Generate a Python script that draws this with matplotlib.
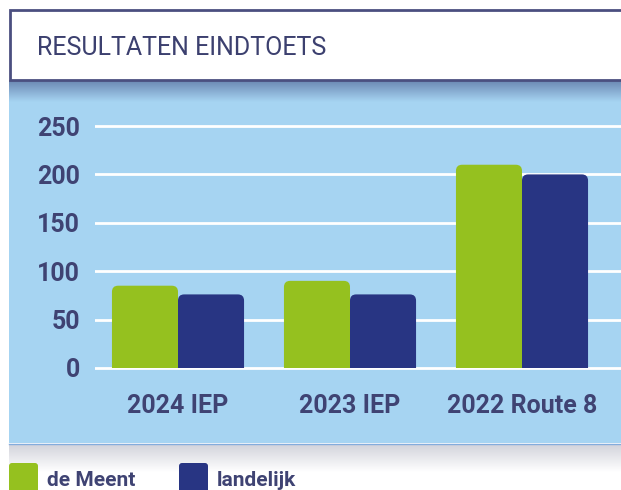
import numpy as np
import matplotlib
matplotlib.use("Agg")
import matplotlib.pyplot as plt
from matplotlib.patches import Rectangle, FancyBboxPatch
from matplotlib.colors import to_rgb

# data
categories = ["2024 IEP", "2023 IEP", "2022 Route 8"]
de_meent = [85, 90, 210]
landelijk = [76, 76, 200]
yticks = [0, 50, 100, 150, 200, 250]

GREEN = "#95c11f"
NAVY = "#283583"
TEXT = "#3f4373"
SKY = "#a6d4f2"

plt.rcParams['font.family'] = ['Roboto', 'DejaVu Sans']

W, H = 621, 490
fig = plt.figure(figsize=(W / 100, H / 100), dpi=100)

# background layer in pixel coordinates
bg = fig.add_axes([0, 0, 1, 1], zorder=0)
bg.set_xlim(0, W)
bg.set_ylim(H, 0)
bg.axis("off")


def vgrad(c_top, c_bot, x0, x1, y0, y1):
    t = np.linspace(0, 1, 64)[:, None]
    a, b = np.array(to_rgb(c_top)), np.array(to_rgb(c_bot))
    img = (a[None, :] * (1 - t) + b[None, :] * t)[:, None, :]
    bg.imshow(img, extent=(x0, x1, y1, y0), aspect="auto", interpolation="bilinear", zorder=1)


bg.add_patch(Rectangle((9, 80), W, 363, facecolor=SKY, edgecolor="none", zorder=0.5))
vgrad("#6a86b2", SKY, 9, W, 81, 102)
bg.plot([9, W], [443.5, 443.5], color="#84acdc", lw=1, zorder=2)
vgrad("#d2d3db", "#ffffff", 9, W, 444, 472)
bg.add_patch(Rectangle((9.5, 10), W + 10, 70, facecolor="white",
                       edgecolor="#4b4f80", lw=2, zorder=3))
bg.text(37, 55, "RESULTATEN EINDTOETS", fontsize=18, color="#3c406f",
        va="baseline", ha="left", zorder=4)

# legend
for x, col, lab in [(9, GREEN, "de Meent"), (179, NAVY, "landelijk")]:
    bg.add_patch(FancyBboxPatch((x, 463), 29, 40, boxstyle="round,pad=0,rounding_size=3",
                                facecolor=col, edgecolor="none", zorder=3))
    bg.text(x + 38, 486, lab, fontsize=15, fontweight="bold", color=TEXT,
            va="baseline", ha="left", zorder=4)

# chart axes
ylo, yhi = -5, 262
ax = fig.add_axes([95 / W, 0.2392, 526 / W, 0.5273], zorder=1)
ax.patch.set_alpha(0)
ax.set_xlim(-0.4826, 2.5756)
ax.set_ylim(ylo, yhi)
for s in ax.spines.values():
    s.set_visible(False)
ax.set_yticks(yticks)
ax.set_yticklabels([str(v) for v in yticks], fontsize=18, fontweight="bold", color=TEXT)
x = np.arange(len(categories))
ax.set_xticks(x)
ax.set_xticklabels(categories, fontsize=18, fontweight="bold", color=TEXT)
ax.tick_params(axis="y", length=0, pad=11)
ax.tick_params(axis="x", length=0, pad=15)
ax.grid(axis="y", color="white", lw=2)
ax.set_axisbelow(True)

bw = 0.384
clip = Rectangle((-1, 0), 10, 400, transform=ax.transData)
for vals, off, col in [(de_meent, -bw / 2, GREEN), (landelijk, bw / 2, NAVY)]:
    for xi, v in zip(x, vals):
        p = FancyBboxPatch((xi + off - bw / 2, -10), bw, v + 10,
                           boxstyle="round,pad=0,rounding_size=0.036",
                           mutation_aspect=177, facecolor=col, edgecolor="none", zorder=2)
        ax.add_patch(p)
        p.set_clip_path(clip)

fig.savefig("out.png", dpi=100)
